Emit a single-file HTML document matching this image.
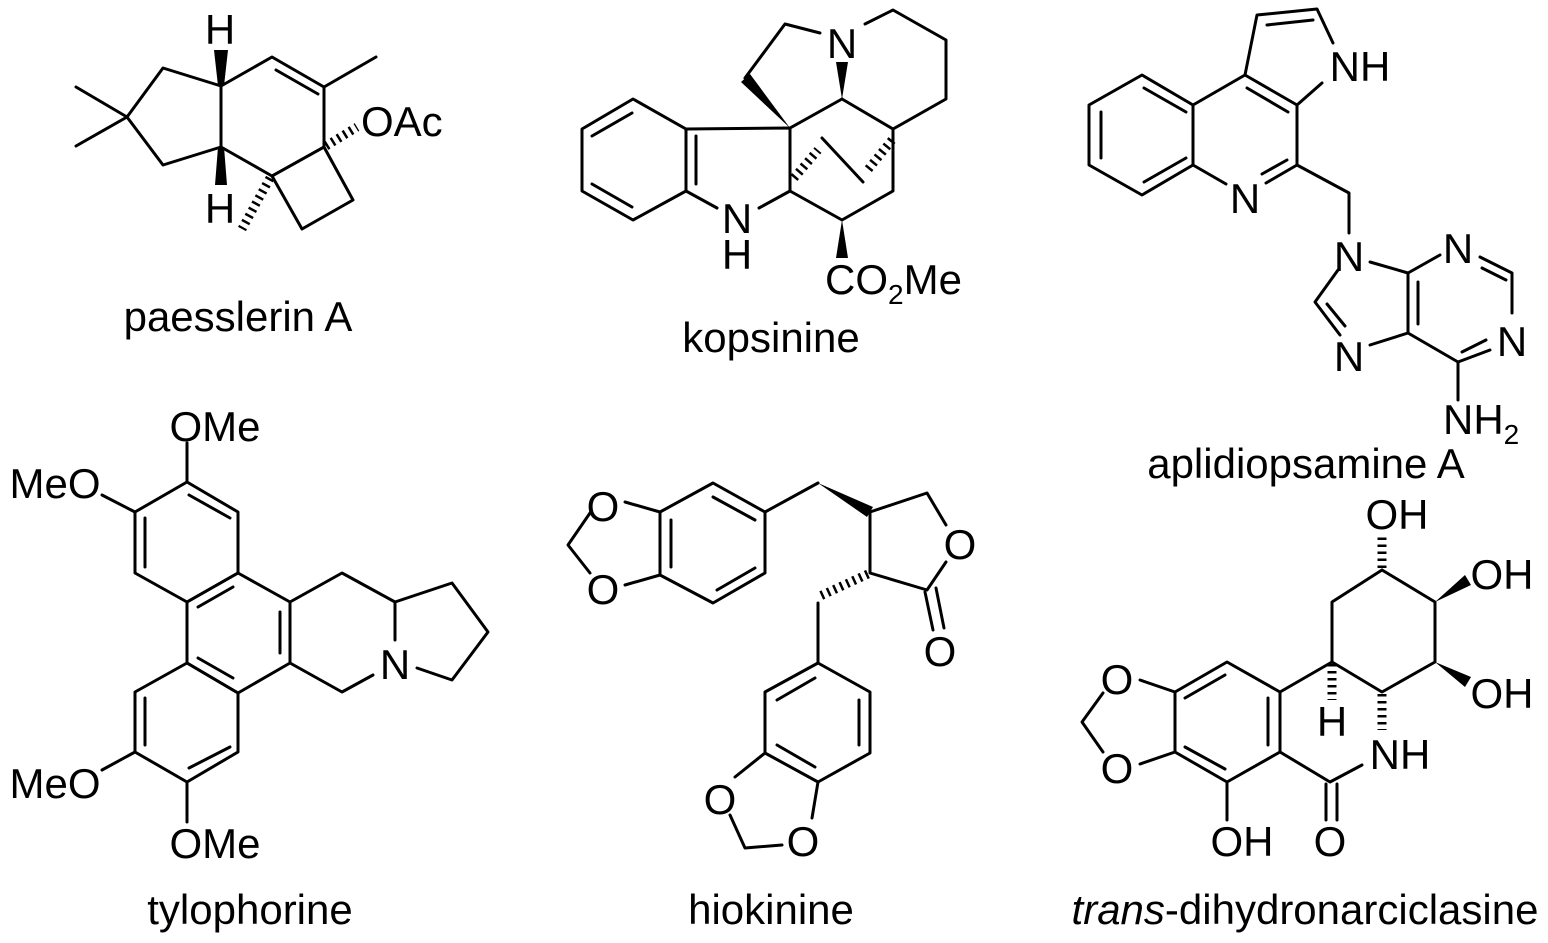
<!DOCTYPE html>
<html><head><meta charset="utf-8"><style>
html,body{margin:0;padding:0;background:#fff;}
svg{display:block;}
text{font-family:"Liberation Sans",Arial,sans-serif;fill:#000;}
.a{font-size:42px;text-anchor:middle;}
.l{font-size:42px;text-anchor:middle;}
</style></head><body>
<svg width="1548" height="943" viewBox="0 0 1548 943" xmlns="http://www.w3.org/2000/svg">
<g stroke="#000" stroke-width="3" fill="none" stroke-linecap="round" stroke-linejoin="round">
<!-- paesslerin A -->
<polyline points="76,87 127,117 76,146"/>
<polyline points="127,117 163,68 221,86 221,147 163,165 127,117"/>
<polyline points="221,86 272,57 324,87 324,147 272,176 221,147"/>
<line x1="276" y1="70" x2="318" y2="94"/>
<line x1="324" y1="87" x2="376" y2="57"/>
<polyline points="272,176 324,147 353,200 302,229 272,176"/>
<!-- kopsinine -->
<polygon points="633,99 686,129 686,191 633,220 582,191 582,129"/>
<line x1="592" y1="136" x2="632" y2="113"/>
<line x1="696" y1="136" x2="696" y2="184"/>
<line x1="592" y1="184" x2="632" y2="207"/>
<polyline points="686,129 790,128 790,191 759,208"/>
<line x1="686" y1="191" x2="717" y2="208"/>
<line x1="790" y1="128" x2="842" y2="99"/>
<polyline points="745,78 785,24 820,33"/>
<polyline points="865,24 893,10 946,40 946,99 893,129 842,99"/>
<polyline points="893,129 893,191 842,220 790,191"/>
<line x1="822" y1="138" x2="863" y2="182"/>
<!-- aplidiopsamine -->
<polygon points="1142,75 1193,105 1193,165 1142,195 1089,165 1089,105"/>
<line x1="1144" y1="88" x2="1186" y2="112"/>
<line x1="1101" y1="112" x2="1101" y2="158"/>
<line x1="1144" y1="182" x2="1186" y2="158"/>
<polyline points="1193,105 1245,75 1297,105 1297,165 1266,183"/>
<line x1="1193" y1="165" x2="1226" y2="184"/>
<line x1="1247" y1="88" x2="1288" y2="112"/>
<line x1="1262" y1="174" x2="1287" y2="160"/>
<polyline points="1245,75 1257,15 1317,9 1333,43"/>
<line x1="1267" y1="25" x2="1313" y2="20"/>
<line x1="1297" y1="105" x2="1322" y2="83"/>
<polyline points="1297,165 1349,193 1349,233"/>
<polyline points="1370,262 1408,273 1408,333 1370,345"/>
<line x1="1418" y1="282" x2="1418" y2="324"/>
<line x1="1408" y1="273" x2="1440" y2="255"/>
<polyline points="1480,257 1512,273 1512,313"/>
<line x1="1482" y1="268" x2="1506" y2="280"/>
<polyline points="1490,350 1458,362 1408,333"/>
<line x1="1462" y1="352" x2="1486" y2="340"/>
<line x1="1458" y1="362" x2="1458" y2="400"/>
<polyline points="1338,270 1315,302 1340,335"/>
<line x1="1327" y1="304" x2="1345" y2="326"/>
<!-- tylophorine -->
<line x1="187" y1="443" x2="187" y2="482"/>
<polygon points="187,482 238,512 238,573 187,602 135,573 135,512"/>
<line x1="189" y1="495" x2="230" y2="518"/>
<line x1="145" y1="518" x2="145" y2="567"/>
<line x1="102" y1="495" x2="135" y2="512"/>
<polygon points="187,602 238,573 290,602 290,663 238,693 187,663"/>
<line x1="198" y1="607" x2="233" y2="587"/>
<line x1="280" y1="612" x2="280" y2="653"/>
<line x1="198" y1="658" x2="233" y2="678"/>
<polygon points="187,663 135,692 135,752 187,782 238,752 238,693"/>
<line x1="145" y1="698" x2="145" y2="745"/>
<line x1="189" y1="768" x2="230" y2="747"/>
<line x1="102" y1="770" x2="135" y2="752"/>
<line x1="187" y1="782" x2="187" y2="822"/>
<polyline points="290,602 342,573 395,602 395,640"/>
<polyline points="373,675 342,692 290,663"/>
<polyline points="395,602 452,583 488,632 452,680 417,668"/>
<!-- hiokinine -->
<polyline points="590,513 568,545 590,573"/>
<line x1="625" y1="502" x2="660" y2="512"/>
<line x1="625" y1="585" x2="660" y2="575"/>
<polygon points="660,512 713,483 765,512 765,573 713,603 660,575"/>
<line x1="713" y1="497" x2="755" y2="520"/>
<line x1="671" y1="520" x2="671" y2="567"/>
<line x1="717" y1="590" x2="755" y2="568"/>
<line x1="765" y1="512" x2="818" y2="483"/>
<polyline points="870,512 927,493 946,525"/>
<polyline points="946,562 927,590 870,573 870,512"/>
<line x1="925" y1="592" x2="933" y2="630"/>
<line x1="936" y1="588" x2="944" y2="628"/>
<line x1="818" y1="603" x2="818" y2="663"/>
<polygon points="818,663 870,692 870,753 818,782 765,753 765,692"/>
<line x1="777" y1="700" x2="815" y2="678"/>
<line x1="859" y1="700" x2="859" y2="745"/>
<line x1="777" y1="745" x2="815" y2="767"/>
<line x1="765" y1="753" x2="735" y2="777"/>
<line x1="818" y1="782" x2="812" y2="818"/>
<polyline points="730,815 745,848 782,845"/>
<!-- trans-dihydronarciclasine -->
<polyline points="1382,570 1435,602 1435,662 1382,692 1332,662 1332,602 1382,570"/>
<polygon points="1227,662 1280,692 1280,752 1227,782 1175,752 1175,692"/>
<line x1="1185" y1="698" x2="1225" y2="675"/>
<line x1="1268" y1="698" x2="1268" y2="745"/>
<line x1="1185" y1="747" x2="1225" y2="769"/>
<line x1="1280" y1="692" x2="1332" y2="662"/>
<polyline points="1280,752 1330,782 1362,765"/>
<line x1="1326" y1="784" x2="1326" y2="820"/>
<line x1="1337" y1="784" x2="1337" y2="820"/>
<line x1="1227" y1="782" x2="1227" y2="820"/>
<polyline points="1140,680 1175,692"/>
<polyline points="1140,764 1175,752"/>
<polyline points="1103,693 1082,722 1103,752"/>
</g>
<g fill="#000" stroke="none">
<polygon points="218,86 224,86 228,50 214,50"/>
<polygon points="218,147 224,147 227,185 215,185"/>
<polygon points="790,128 741,82 750,74"/>
<polygon points="842,99 836,62 848,62"/>
<polygon points="842,220 836,258 848,258"/>
<polygon points="818,483 873,507 867,517"/>
<polygon points="1435,602 1471,585 1465,575"/>
<polygon points="1435,662 1465,687 1471,677"/>
</g>
<g stroke="#000" stroke-width="9" stroke-dasharray="2.5 4.5" fill="none">
<line x1="326" y1="146" x2="357" y2="127"/>
<line x1="270" y1="178" x2="242" y2="229"/>
<line x1="794" y1="178" x2="818" y2="150"/>
<line x1="892" y1="140" x2="866" y2="172"/>
<line x1="868" y1="574" x2="818" y2="597"/>
<line x1="1382" y1="568" x2="1382" y2="535"/>
<line x1="1332" y1="664" x2="1332" y2="700"/>
<line x1="1382" y1="694" x2="1382" y2="730"/>
</g>
<text class="a" x="220" y="44">H</text>
<text class="a" x="220" y="223">H</text>
<text x="361" y="136" style="font-size:42px">OAc</text>
<text class="a" x="842" y="58">N</text>
<text class="a" x="737" y="233">N</text>
<text class="a" x="737" y="269">H</text>
<text x="825" y="294" style="font-size:42px">CO<tspan style="font-size:28px" dy="10">2</tspan><tspan dy="-10">Me</tspan></text>
<text class="a" x="1360" y="81">NH</text>
<text class="a" x="1245" y="213">N</text>
<text class="a" x="1349" y="271">N</text>
<text class="a" x="1458" y="263">N</text>
<text class="a" x="1512" y="356">N</text>
<text class="a" x="1349" y="371">N</text>
<text x="1443" y="434" style="font-size:42px">NH<tspan style="font-size:28px" dy="10">2</tspan></text>
<text class="a" x="215" y="441">OMe</text>
<text class="a" x="55" y="498">MeO</text>
<text class="a" x="55" y="798">MeO</text>
<text class="a" x="215" y="858">OMe</text>
<text class="a" x="395" y="679">N</text>
<text class="a" x="603" y="521">O</text>
<text class="a" x="603" y="604">O</text>
<text class="a" x="960" y="559">O</text>
<text class="a" x="940" y="666">O</text>
<text class="a" x="720" y="814">O</text>
<text class="a" x="803" y="856">O</text>
<text class="a" x="1397" y="529">OH</text>
<text class="a" x="1502" y="589">OH</text>
<text class="a" x="1502" y="708">OH</text>
<text class="a" x="1332" y="736">H</text>
<text class="a" x="1400" y="769">NH</text>
<text class="a" x="1117" y="694">O</text>
<text class="a" x="1117" y="783">O</text>
<text class="a" x="1242" y="856">OH</text>
<text class="a" x="1330" y="856">O</text>
<text class="l" x="238" y="331">paesslerin A</text>
<text class="l" x="771" y="352">kopsinine</text>
<text class="l" x="1306" y="478">aplidiopsamine A</text>
<text class="l" x="250" y="924">tylophorine</text>
<text class="l" x="771" y="924">hiokinine</text>
<text class="l" x="1305" y="924"><tspan font-style="italic">trans</tspan>-dihydronarciclasine</text>
</svg>
</body></html>
